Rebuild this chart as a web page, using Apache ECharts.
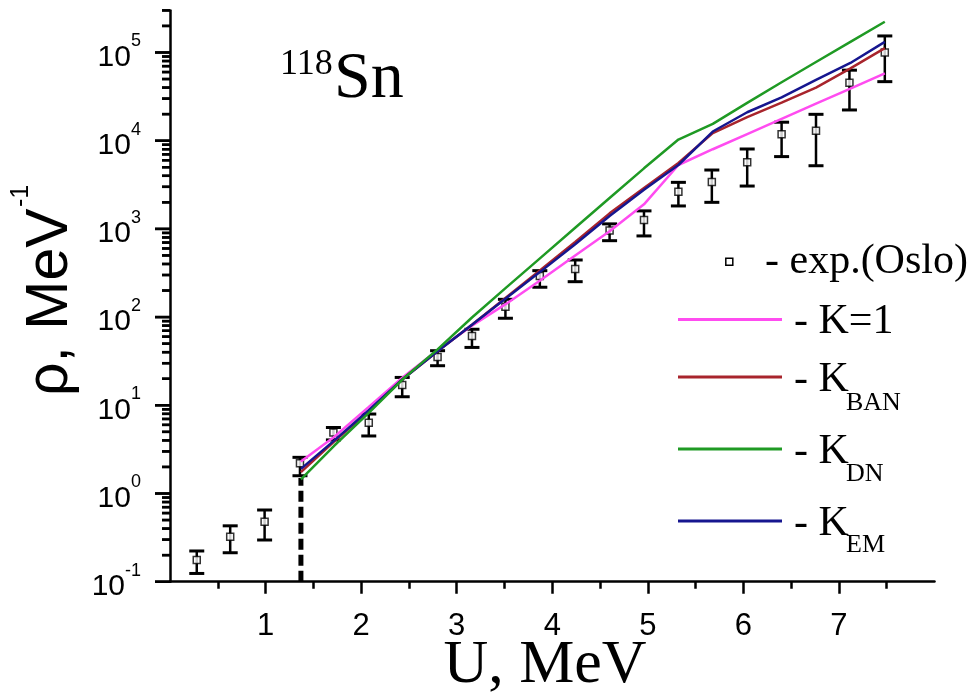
<!DOCTYPE html>
<html>
<head>
<meta charset="utf-8">
<script src="https://cdn.jsdelivr.net/npm/echarts@6/dist/echarts.min.js"></script>
<style>
  html, body { margin: 0; padding: 0; background: #fff; }
  #chart { width: 979px; height: 696px; }
</style>
</head>
<body>
<div id="chart"></div>
<script>
// Excitation energy grid of the model curves (MeV)
const modelU = [1.37, 1.72, 2.08, 2.44, 2.80, 3.16, 3.52, 3.88, 4.24, 4.60, 4.96, 5.32, 5.68, 6.04, 6.40, 6.76, 7.12, 7.48];
// Level density for the different collective enhancement factors (MeV^-1)
const rhoK1  = [2.3, 4.4, 9.6, 21, 42, 80, 142, 264, 500, 940, 1900, 5300, 8000, 11900, 17700, 26300, 39000, 58000];
const rhoBAN = [1.75, 3.9, 8.6, 20, 41, 82, 168, 345, 710, 1500, 2900, 5600, 12200, 18500, 27000, 40000, 66000, 112000];
const rhoDN  = [1.45, 3.5, 8.2, 20, 43, 99, 217, 472, 1030, 2240, 4860, 10300, 15500, 26800, 46000, 78000, 132000, 223000];
const rhoEM  = [1.9, 4.0, 8.8, 20, 41, 82, 165, 330, 671, 1400, 2770, 5300, 12700, 21000, 31000, 49000, 76000, 132000];

// Oslo experimental level density with its error limits
const expU   = [0.28, 0.63, 0.99, 1.36, 1.71, 2.08, 2.43, 2.80, 3.16, 3.51, 3.87, 4.24, 4.60, 4.96, 5.32, 5.67, 6.04, 6.40, 6.76, 7.11, 7.48];
const expRho = [0.176, 0.324, 0.479, 2.2, 4.9, 6.35, 17.0, 35.3, 61, 131, 292, 351, 960, 1260, 2640, 3400, 5690, 11800, 13000, 45500, 100000];
const expLo  = [0.124, 0.213, 0.297, 1.59, 4.05, 4.49, 12.5, 28.1, 45.3, 97, 218, 252, 735, 832, 1820, 2000, 3060, 6600, 5200, 22300, 46700];
const expHi  = [0.223, 0.43, 0.65, 2.57, 5.6, 7.96, 20.7, 41.6, 72.8, 159, 336, 444, 1140, 1600, 3370, 4650, 8050, 16200, 19900, 63000, 154000];

// Dashed boundary below which the model is not applied
const cutU   = [1.37, 1.37];
const cutRho = [0.1, 1.5];

// Axis ticks
const xTickValues = [1, 2, 3, 4, 5, 6, 7];
const yDecades = [0.1, 1, 10, 100, 1000, 10000, 100000];
const yMantissas = [2, 3, 4, 5, 6, 7, 8, 9];
const yMin = 0.1;
const yMax = 300000;

// short ticks at 2..9 x each decade
const yMinorValues = [];
yDecades.forEach(d => yMantissas.forEach(m => {
  const v = +(m * d).toPrecision(6);
  if (v <= yMax * 1.0001) yMinorValues.push(v);
}));

const GRID = { left: 170, right: 44.5, top: 10.4, bottom: 114.3 };
// narrow strip just left of the y axis that carries the tick marks
const TICK_STRIP = 20;
// [strip position, rho, tick length]
const yTickData = yDecades.map(v => [TICK_STRIP, v, 15]).concat(yMinorValues.map(v => [TICK_STRIP, v, 8]));

const COLORS = { k1: '#ff4cf0', ban: '#a8242c', dn: '#1f9a24', em: '#16168f' };
const SERIF = '"Liberation Serif", "Times New Roman", serif';
const SANS = '"Liberation Sans", Arial, sans-serif';

const pair = (xs, ys) => xs.map((x, i) => [x, ys[i]]);

function lineSeries(name, ys, color) {
  return {
    name, type: 'line', data: pair(modelU, ys),
    symbol: 'none', smooth: false, z: 5, silent: true,
    lineStyle: { color, width: 2.5 }, itemStyle: { color }
  };
}

const textEl = (x, y, text, font, extra) => Object.assign({
  type: 'text', x, y, style: { text, font, fill: '#000', textAlign: 'left', textVerticalAlign: 'middle' }
}, extra || {});

const staticGraphics = [
  // nucleus label
  textEl(280, 65, '118', '36px ' + SERIF),
  textEl(334, 80, 'Sn', '66px ' + SERIF),
  // axis titles
  textEl(51, 396, 'ρ, MeV', '59px ' + SANS, { rotation: Math.PI / 2 }),
  textEl(21.5, 207, '-1', '25px ' + SANS, { rotation: Math.PI / 2 }),
  { type: 'text', x: 545, y: 666, style: { text: 'U, MeV', font: '62px ' + SERIF, fill: '#000', textAlign: 'center', textVerticalAlign: 'middle' } },
  // legend
  { type: 'rect', shape: { x: 725.8, y: 258.2, width: 7, height: 7 }, style: { fill: '#fff', stroke: '#000', lineWidth: 1.5 } },
  textEl(765, 262, '- exp.(Oslo)', '42px ' + SERIF),
  { type: 'line', shape: { x1: 678, y1: 319.5, x2: 782, y2: 319.5 }, style: { stroke: COLORS.k1, lineWidth: 3 } },
  textEl(794, 322, '- K=1', '42px ' + SERIF),
  { type: 'line', shape: { x1: 678, y1: 377, x2: 782, y2: 377 }, style: { stroke: COLORS.ban, lineWidth: 3 } },
  textEl(794, 379.5, '- K', '42px ' + SERIF),
  textEl(846, 403, 'BAN', '26px ' + SERIF),
  { type: 'line', shape: { x1: 678, y1: 449, x2: 782, y2: 449 }, style: { stroke: COLORS.dn, lineWidth: 3 } },
  textEl(794, 451.5, '- K', '42px ' + SERIF),
  textEl(846, 474, 'DN', '26px ' + SERIF),
  { type: 'line', shape: { x1: 678, y1: 521, x2: 782, y2: 521 }, style: { stroke: COLORS.em, lineWidth: 3 } },
  textEl(794, 523.5, '- K', '42px ' + SERIF),
  textEl(846, 545.5, 'EM', '26px ' + SERIF)
];

const chart = echarts.init(document.getElementById('chart'), null, { renderer: 'canvas' });

chart.setOption({
  animation: false,
  backgroundColor: '#fff',
  grid: [
    Object.assign({ containLabel: false }, GRID),
    { left: GRID.left - TICK_STRIP, width: TICK_STRIP, top: GRID.top, bottom: GRID.bottom, containLabel: false }
  ],
  xAxis: [
    {
      type: 'value', min: 0, max: 8, interval: 1,
      axisLine: { show: true, lineStyle: { color: '#000', width: 2.5 } },
      axisTick: { show: true, length: 12, customValues: xTickValues, lineStyle: { color: '#000', width: 2.5 } },
      minorTick: { show: true, splitNumber: 2, length: 7, lineStyle: { color: '#000', width: 2.5 } },
      axisLabel: {
        customValues: xTickValues,
        margin: 29, color: '#000', fontFamily: SANS, fontSize: 31,
        formatter: v => (v >= 1 && v <= 7 ? String(v) : '')
      },
      splitLine: { show: false }
    },
    { gridIndex: 1, type: 'value', min: 0, max: TICK_STRIP, show: false }
  ],
  yAxis: [
    {
      type: 'log', logBase: 10, min: yMin, max: yMax, position: 'left',
      axisLine: { show: true, lineStyle: { color: '#000', width: 2.5 } },
      axisTick: { show: false },
      minorTick: { show: false },
      splitLine: { show: false },
      axisLabel: {
        customValues: yDecades,
        margin: 29, color: '#000',
        formatter: v => {
          const l = Math.log10(v), e = Math.round(l);
          return Math.abs(l - e) < 1e-6 ? '{b|10}{s|' + e + '}' : '';
        },
        rich: {
          b: { fontFamily: SANS, fontSize: 30, lineHeight: 40, verticalAlign: 'bottom', color: '#000' },
          s: { fontFamily: SANS, fontSize: 18, lineHeight: 18, verticalAlign: 'top', color: '#000' }
        }
      }
    },
    { gridIndex: 1, type: 'log', logBase: 10, min: yMin, max: yMax, show: false }
  ],
  series: [
    {
      // y-axis tick marks on the log scale, drawn in the strip left of the axis
      name: 'y ticks', type: 'custom', silent: true, zlevel: 1, z: 10, clip: false,
      xAxisIndex: 1, yAxisIndex: 1,
      data: yTickData,
      encode: { x: 0, y: 1 },
      renderItem(params, api) {
        const p = api.coord([api.value(0), api.value(1)]);
        const len = api.value(2);
        return {
          type: 'line',
          shape: { x1: p[0] - len, y1: p[1], x2: p[0], y2: p[1] },
          style: { stroke: '#000', lineWidth: 2.5 }
        };
      }
    },
    {
      name: 'boundary', type: 'line', data: pair(cutU, cutRho),
      symbol: 'none', silent: true, z: 3,
      lineStyle: { color: '#000', width: 5, type: [11, 5] }
    },
    {
      name: 'exp.(Oslo) errors', type: 'custom', silent: true, z: 2, clip: false,
      data: expU.map((u, i) => [u, expLo[i], expHi[i]]),
      encode: { x: 0, y: [1, 2] },
      renderItem(params, api) {
        const lo = api.coord([api.value(0), api.value(1)]);
        const hi = api.coord([api.value(0), api.value(2)]);
        const w = 7.5;
        return {
          type: 'group',
          children: [
            { type: 'line', shape: { x1: lo[0], y1: lo[1], x2: hi[0], y2: hi[1] }, style: { stroke: '#000', lineWidth: 2.5 } },
            { type: 'line', shape: { x1: lo[0] - w, y1: lo[1], x2: lo[0] + w, y2: lo[1] }, style: { stroke: '#000', lineWidth: 3 } },
            { type: 'line', shape: { x1: hi[0] - w, y1: hi[1], x2: hi[0] + w, y2: hi[1] }, style: { stroke: '#000', lineWidth: 3 } }
          ]
        };
      }
    },
    {
      name: 'exp.(Oslo)', type: 'scatter', data: pair(expU, expRho),
      symbol: 'rect', symbolSize: 7, silent: true, z: 3,
      itemStyle: { color: '#fff', borderColor: '#000', borderWidth: 1.5 }
    },
    lineSeries('K=1', rhoK1, COLORS.k1),
    lineSeries('K_BAN', rhoBAN, COLORS.ban),
    lineSeries('K_EM', rhoEM, COLORS.em),
    lineSeries('K_DN', rhoDN, COLORS.dn)
  ],
  graphic: staticGraphics
});

// the same tick marks as overlay lines, placed through the main cartesian scale
let yTicks = [];
try {
  const tickMark = (v, len) => {
    const pt = chart.convertToPixel({ xAxisIndex: 0, yAxisIndex: 0 }, [0, v]);
    if (!pt || !isFinite(pt[1])) return null;
    return {
      type: 'line', zlevel: 1, z: 10,
      shape: { x1: pt[0] - len, y1: pt[1], x2: pt[0], y2: pt[1] },
      style: { stroke: '#000', lineWidth: 2.5 }
    };
  };
  yTicks = yDecades.map(v => tickMark(v, 15))
    .concat(yMinorValues.map(v => tickMark(v, 8)))
    .filter(Boolean);
} catch (e) {
  yTicks = [];
}
if (yTicks.length) {
  chart.setOption({ graphic: staticGraphics.concat(yTicks) });
}
</script>
</body>
</html>
